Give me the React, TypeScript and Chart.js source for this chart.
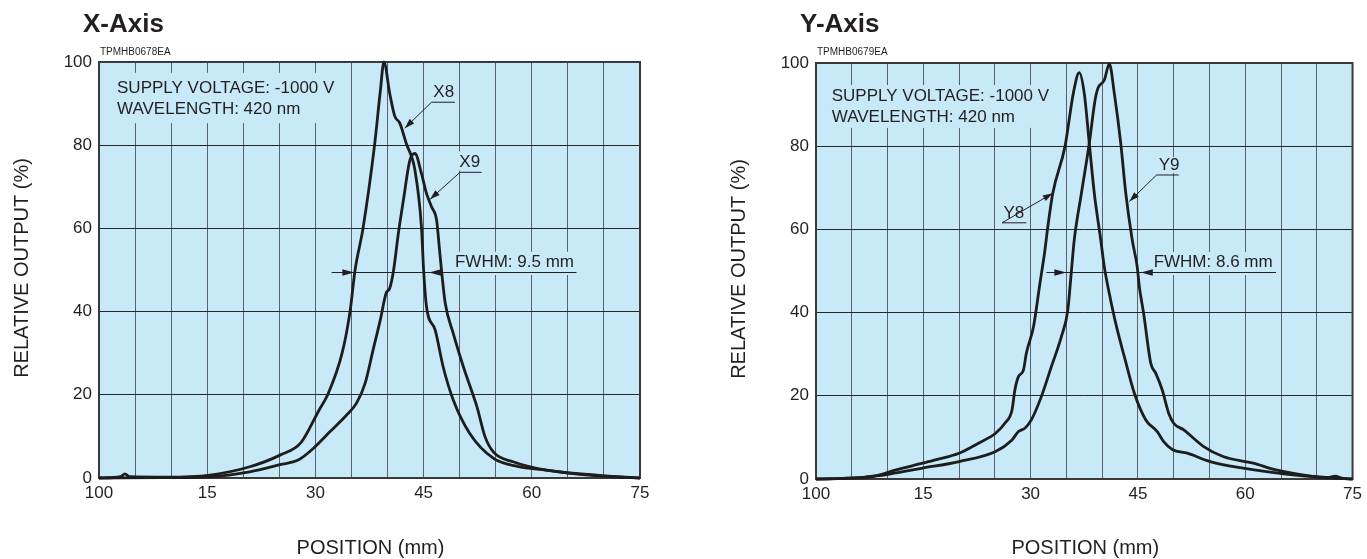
import { useEffect, useRef } from 'react';
import { Chart, registerables } from 'chart.js';

Chart.register(...registerables);

// ---------- data ----------
const xTickValues = [0, 15, 30, 45, 60, 75];
const xTickLabels = ['100', '15', '30', '45', '60', '75'];
const yTickLabels = ['0', '20', '40', '60', '80', '100'];

// X-Axis panel
const x8Pos = [0, 3.0, 3.6, 4.2, 9.4, 15.4, 20.9, 25.1, 28.0, 30.5, 31.7, 33.7, 34.8, 35.5, 36.6, 38.2, 39.0, 39.5, 40.3, 41.0, 41.7, 42.6, 43.8, 44.7, 45.0, 45.4, 46.6, 47.7, 49.1, 51.4, 54.7, 58.0, 62.0, 66.0, 71.3, 75];
const x8Val = [0, 0.3, 1.0, 0.3, 0.2, 0.7, 2.7, 5.5, 8.5, 16.3, 20, 30, 40, 50, 60, 80, 93, 100, 92.5, 87, 85.3, 80.4, 74, 60.4, 50, 41.2, 35.6, 26.8, 18.8, 10.7, 4.7, 2.8, 1.9, 1.0, 0.3, 0];

const x9Pos = [0, 9.0, 15.4, 20.9, 25.1, 27.6, 29.7, 32.0, 34.3, 35.7, 36.9, 38.0, 39.0, 39.8, 40.3, 40.8, 41.5, 42.2, 43.1, 43.8, 44.7, 45.4, 46.1, 46.8, 47.2, 47.5, 48.0, 49.1, 50.5, 52.4, 53.5, 54.7, 57.4, 62.0, 69.0, 75];
const x9Val = [0, 0.1, 0.3, 1.5, 3.2, 4.3, 7.1, 11.1, 15.1, 18, 22.8, 30.8, 38, 44.4, 45.6, 49.5, 58.8, 66.8, 76.4, 78, 73.2, 68.4, 65.2, 62, 55, 49.6, 42, 34.8, 26.8, 17.1, 10, 6.2, 3.9, 1.9, 0.7, 0];

// Y-Axis panel
const y8Pos = [0, 1.0, 4.3, 7.9, 11.2, 14.9, 16.7, 20.0, 22.7, 25.1, 26.4, 27.4, 27.8, 28.3, 29.0, 29.4, 30.4, 31.3, 32.0, 32.4, 33.1, 34.8, 36.0, 36.8, 37.5, 38.2, 38.9, 39.8, 40.3, 41.0, 41.9, 43.1, 44.5, 46.1, 47.7, 48.6, 49.8, 51.9, 55.1, 59.7, 65.7, 71.7, 75];
const y8Val = [0, 0, 0.2, 0.6, 2.2, 3.8, 4.6, 6.2, 8.6, 11, 13.4, 16.6, 21.4, 24.6, 26.2, 30.2, 36.6, 47, 55, 60.6, 68.7, 79.9, 93, 97.7, 92.7, 80.7, 68.7, 57.5, 51, 44.6, 37.4, 29.4, 20.6, 14.2, 11.4, 9, 7.1, 6.2, 4.2, 2.6, 1.2, 0.3, 0];

const y9Pos = [0, 6.6, 10.3, 14.9, 20.0, 25.1, 27.4, 28.3, 29.2, 30.1, 31.5, 32.9, 34.3, 35.2, 35.7, 36.1, 37.1, 38.2, 39.0, 39.4, 40.3, 41.0, 41.7, 42.6, 43.3, 44.2, 44.9, 45.2, 45.8, 46.8, 47.5, 48.4, 49.3, 50.0, 51.4, 54.2, 56.9, 61.1, 64.3, 68.0, 71.5, 72.6, 73.5, 75];
const y9Val = [0, 0.4, 1.2, 2.6, 4.2, 6.6, 9.4, 11.4, 12.2, 14.2, 19.8, 27, 34.2, 40.6, 50, 57.5, 68.7, 80.7, 91, 93.9, 95.9, 99.8, 92.7, 80.7, 68.7, 57.5, 51, 46.2, 39.8, 27.8, 25.4, 21.4, 15.8, 13.4, 11.8, 7.8, 5.4, 3.8, 2.2, 1, 0.3, 0.7, 0.2, 0];

// ---------- styles ----------
const FONT = '"Liberation Sans", Arial, Helvetica, sans-serif';
const BG = '#c7e9f8';
const INK = '#231f20';
const H = 559;

type Panel = {
  left: number;
  width: number;
  top: number;
  bottom: number;
  title: string;
  code: string;
  series: { pos: number[]; val: number[] }[];
  info: { x: number; ys: number[]; lines: string[] };
  masks: number[][]; // [x0, x1, yTop, yBottom] in data units
  labels: { text: string; tx: number; ty: number; u0: number; u1: number; uy: number; ax: number; ay: number }[];
  fwhm: { y: number; x0: number; x1: number; tipL: number; tipR: number; text: string; tx: number; ty: number };
};

const panels: Panel[] = [
  {
    left: 0,
    width: 683,
    top: 62,
    bottom: 478,
    title: 'X-Axis',
    code: 'TPMHB0678EA',
    series: [
      { pos: x8Pos, val: x8Val },
      { pos: x9Pos, val: x9Val },
    ],
    info: { x: 2.5, ys: [92.5, 87.4], lines: ['SUPPLY VOLTAGE: -1000 V', 'WAVELENGTH: 420 nm'] },
    masks: [
      [1.5, 34.5, 97.4, 85.3],
      [49.7, 53.2, 78.5, 73.9],
      [49.0, 66.4, 54.4, 48.8],
    ],
    labels: [
      { text: 'X8', tx: 46.35, ty: 91.5, u0: 46.1, u1: 49.35, uy: 90.45, ax: 42.4, ay: 84.1 },
      { text: 'X9', tx: 49.95, ty: 74.7, u0: 50.05, u1: 53.05, uy: 73.6, ax: 45.9, ay: 67.0 },
    ],
    fwhm: { y: 49.6, x0: 32.26, x1: 66.2, tipL: 35.4, tipR: 45.75, text: 'FWHM: 9.5 mm', tx: 49.35, ty: 50.7 },
  },
  {
    left: 717,
    width: 650,
    top: 63,
    bottom: 479,
    title: 'Y-Axis',
    code: 'TPMHB0679EA',
    series: [
      { pos: y8Pos, val: y8Val },
      { pos: y9Pos, val: y9Val },
    ],
    info: { x: 2.2, ys: [90.9, 85.9], lines: ['SUPPLY VOLTAGE: -1000 V', 'WAVELENGTH: 420 nm'] },
    masks: [
      [1.7, 34.5, 94.7, 84.4],
      [47.5, 50.9, 77.4, 73.5],
      [47.0, 64.5, 54.6, 49.0],
    ],
    labels: [
      { text: 'Y8', tx: 26.2, ty: 62.7, u0: 26.0, u1: 29.4, uy: 61.7, ax: 33.1, ay: 68.7 },
      { text: 'Y9', tx: 47.9, ty: 74.3, u0: 47.6, u1: 50.7, uy: 73.2, ax: 43.8, ay: 66.7 },
    ],
    fwhm: { y: 49.8, x0: 32.2, x1: 64.3, tipL: 35.0, tipR: 45.4, text: 'FWHM: 8.6 mm', tx: 47.2, ty: 51.0 },
  },
];

function arrowHead(ctx: CanvasRenderingContext2D, tx: number, ty: number, fx: number, fy: number, len = 10, half = 3) {
  const ang = Math.atan2(ty - fy, tx - fx);
  const bx = tx - len * Math.cos(ang);
  const by = ty - len * Math.sin(ang);
  const px = -Math.sin(ang) * half;
  const py = Math.cos(ang) * half;
  ctx.beginPath();
  ctx.moveTo(tx, ty);
  ctx.lineTo(bx + px, by + py);
  ctx.lineTo(bx - px, by - py);
  ctx.closePath();
  ctx.fill();
}

function makeDeco(p: Panel) {
  return {
    id: 'deco',
    beforeDraw(chart: any) {
      const { ctx, chartArea: a } = chart;
      ctx.save();
      ctx.fillStyle = BG;
      ctx.fillRect(a.left, a.top, a.right - a.left, a.bottom - a.top);
      ctx.restore();
    },
    beforeDatasetsDraw(chart: any) {
      const { ctx, chartArea: a } = chart;
      const xs = chart.scales.x;
      const ys = chart.scales.y;
      ctx.save();
      ctx.fillStyle = BG;
      for (const m of p.masks) {
        const x0 = xs.getPixelForValue(m[0]);
        const x1 = xs.getPixelForValue(m[1]);
        const y0 = ys.getPixelForValue(m[2]);
        const y1 = ys.getPixelForValue(m[3]);
        ctx.fillRect(x0, y0, x1 - x0, y1 - y0);
      }
      ctx.strokeStyle = '#3a3a3a';
      ctx.lineWidth = 2;
      ctx.strokeRect(a.left, a.top, a.right - a.left, a.bottom - a.top);
      ctx.restore();
    },
    afterDatasetsDraw(chart: any) {
      const { ctx } = chart;
      const xs = chart.scales.x;
      const ys = chart.scales.y;
      const X = (v: number) => xs.getPixelForValue(v);
      const Y = (v: number) => ys.getPixelForValue(v);
      ctx.save();
      ctx.fillStyle = INK;
      ctx.strokeStyle = INK;
      ctx.textBaseline = 'alphabetic';
      ctx.textAlign = 'left';
      ctx.font = `17px ${FONT}`;
      p.info.lines.forEach((t, i) => ctx.fillText(t, X(p.info.x), Y(p.info.ys[i])));
      ctx.lineWidth = 1;
      for (const l of p.labels) {
        ctx.fillText(l.text, X(l.tx), Y(l.ty));
        ctx.beginPath();
        ctx.moveTo(X(l.u1), Y(l.uy) + 0.5);
        ctx.lineTo(X(l.u0), Y(l.uy) + 0.5);
        ctx.lineTo(X(l.ax), Y(l.ay));
        ctx.stroke();
        arrowHead(ctx, X(l.ax), Y(l.ay), X(l.u0), Y(l.uy), 10, 3.2);
      }
      const f = p.fwhm;
      const fy = Math.round(Y(f.y)) + 0.5;
      ctx.beginPath();
      ctx.moveTo(X(f.x0), fy);
      ctx.lineTo(X(f.x1), fy);
      ctx.stroke();
      arrowHead(ctx, X(f.tipL), fy, X(f.tipL) - 20, fy, 12, 3.2);
      arrowHead(ctx, X(f.tipR), fy, X(f.tipR) + 20, fy, 12, 3.2);
      ctx.fillText(f.text, X(f.tx), Y(f.ty));
      ctx.restore();
    },
    afterDraw(chart: any) {
      const { ctx, chartArea: a } = chart;
      ctx.save();
      ctx.fillStyle = INK;
      ctx.textAlign = 'left';
      ctx.textBaseline = 'alphabetic';
      ctx.font = `bold 26px ${FONT}`;
      ctx.fillText(p.title, a.left - 16, 31.5);
      ctx.font = `10px ${FONT}`;
      ctx.fillText(p.code, a.left + 1, 55);
      ctx.font = `20px ${FONT}`;
      ctx.textAlign = 'center';
      ctx.fillText('POSITION (mm)', (a.left + a.right) / 2 + 1, 554);
      ctx.translate(a.left - 71, (a.top + a.bottom) / 2 - 2);
      ctx.rotate(-Math.PI / 2);
      ctx.fillText('RELATIVE OUTPUT (%)', 0, 0);
      ctx.restore();
    },
  };
}

function PanelChart({ p }: { p: Panel }) {
  const ref = useRef<HTMLCanvasElement | null>(null);
  useEffect(() => {
    if (!ref.current) return;
    const chart = new Chart(ref.current, {
      type: 'line',
      data: {
        datasets: p.series.map((s) => ({
          data: s.pos.map((x, i) => ({ x, y: s.val[i] })),
          borderColor: '#1d1d1d',
          borderWidth: 2.8,
          pointRadius: 0,
          fill: false,
          cubicInterpolationMode: 'monotone' as const,
          clip: false as any,
        })),
      },
      options: {
        responsive: false,
        devicePixelRatio: 1,
        animation: false,
        events: [],
        layout: { padding: { left: 0, right: p.width - 640, top: p.top, bottom: 0 } },
        plugins: { legend: { display: false }, tooltip: { enabled: false }, title: { display: false } },
        scales: {
          x: {
            type: 'linear',
            min: 0,
            max: 75,
            afterFit: (s: any) => {
              s.height = H - p.bottom;
            },
            border: { display: false },
            grid: { color: '#56636a', lineWidth: 1, drawTicks: false },
            ticks: {
              stepSize: 5,
              autoSkip: false,
              maxRotation: 0,
              padding: 5,
              color: INK,
              font: { family: FONT, size: 17 },
              callback: (v: any) => {
                const i = xTickValues.indexOf(Number(v));
                return i >= 0 ? xTickLabels[i] : '';
              },
            },
          },
          y: {
            type: 'linear',
            min: 0,
            max: 100,
            afterFit: (s: any) => {
              s.width = 99;
            },
            border: { display: false },
            grid: { color: '#262626', lineWidth: 1, drawTicks: false },
            ticks: {
              stepSize: 20,
              padding: 7,
              color: INK,
              font: { family: FONT, size: 17 },
              callback: (v: any) => yTickLabels[Math.round(Number(v) / 20)] ?? '',
            },
          },
        },
      },
      plugins: [makeDeco(p)],
    });
    return () => chart.destroy();
  }, [p]);
  return (
    <canvas
      ref={ref}
      width={p.width}
      height={H}
      style={{ position: 'absolute', left: p.left, top: 0, width: p.width, height: H }}
    />
  );
}

export default function App() {
  return (
    <div style={{ position: 'absolute', left: 0, top: 0, width: 1367, height: H, background: '#fff', overflow: 'hidden' }}>
      {panels.map((p) => (
        <PanelChart key={p.title} p={p} />
      ))}
    </div>
  );
}
